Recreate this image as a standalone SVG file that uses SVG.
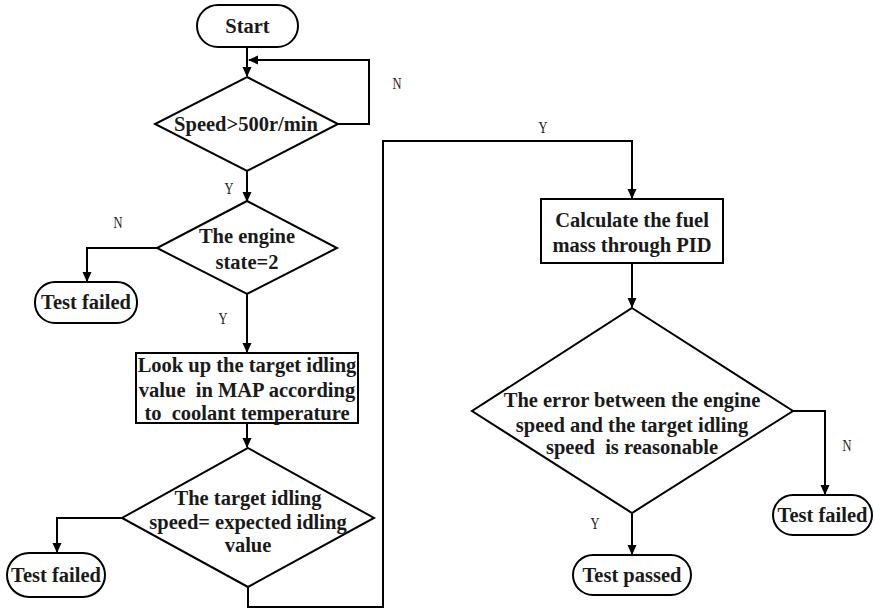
<svg xmlns="http://www.w3.org/2000/svg" width="874" height="611" viewBox="0 0 874 611">
<defs>
<marker id="ah" markerWidth="10" markerHeight="10" refX="9" refY="5" orient="auto" markerUnits="userSpaceOnUse">
<path d="M0,0.5 L10,5 L0,9.5 Z" fill="#000"/>
</marker>
<style>
.shape{fill:#fff;stroke:#000;stroke-width:2}
.t{font-family:"Liberation Serif","Times New Roman",serif;font-weight:bold;font-size:20.5px;text-anchor:middle;fill:#1a1a1a;white-space:pre}
.lbl{font-family:"Liberation Serif","Times New Roman",serif;font-size:17px;text-anchor:middle;fill:#222}
.c{fill:none;stroke:#000;stroke-width:2}
</style>
</defs>
<rect width="874" height="611" fill="#fff"/>
<g id="connectors">
<path class="c" d="M247,47 V76" marker-end="url(#ah)"/>
<path class="c" d="M338,124 H369 V60 H249" marker-end="url(#ah)"/>
<path class="c" d="M247,171 V201" marker-end="url(#ah)"/>
<path class="c" d="M157,248 H87 V281" marker-end="url(#ah)"/>
<path class="c" d="M247,294 V352" marker-end="url(#ah)"/>
<path class="c" d="M247,423 V447" marker-end="url(#ah)"/>
<path class="c" d="M122,518 H57 V552" marker-end="url(#ah)"/>
<path class="c" d="M248,587 V607 H383 V141 H632 V198" marker-end="url(#ah)"/>
<path class="c" d="M632,263 V307" marker-end="url(#ah)"/>
<path class="c" d="M793,411 H825 V494" marker-end="url(#ah)"/>
<path class="c" d="M632,513 V554" marker-end="url(#ah)"/>
<text class="lbl" x="397" y="89" textLength="9" lengthAdjust="spacingAndGlyphs">N</text>
<text class="lbl" x="229" y="194" textLength="9" lengthAdjust="spacingAndGlyphs">Y</text>
<text class="lbl" x="118" y="228" textLength="9" lengthAdjust="spacingAndGlyphs">N</text>
<text class="lbl" x="223" y="324" textLength="9" lengthAdjust="spacingAndGlyphs">Y</text>
<text class="lbl" x="543" y="133" textLength="9" lengthAdjust="spacingAndGlyphs">Y</text>
<text class="lbl" x="847" y="451" textLength="9" lengthAdjust="spacingAndGlyphs">N</text>
<text class="lbl" x="595" y="529" textLength="9" lengthAdjust="spacingAndGlyphs">Y</text>
</g>
<g id="start">
<rect class="shape" x="197" y="5" width="101" height="42" rx="21"/>
<text class="t" x="247.5" y="33">Start</text>
</g>
<g id="speed">
<polygon class="shape" points="247,77 338,124 247,171 155,124"/>
<text class="t" x="246" y="131">Speed&gt;500r/min</text>
</g>
<g id="engine-state">
<polygon class="shape" points="247,201 337,248 247,294 157,248"/>
<text class="t" x="247" y="243">The engine</text>
<text class="t" x="247" y="269">state=2</text>
</g>
<g id="fail1">
<rect class="shape" x="35" y="282" width="102" height="41" rx="20"/>
<text class="t" x="86" y="309">Test failed</text>
</g>
<g id="lookup">
<rect class="shape" x="136" y="353" width="222" height="70"/>
<text class="t" x="247" y="372">Look up the target idling</text>
<text class="t" x="247" y="397">value  in MAP according</text>
<text class="t" x="247" y="420">to  coolant temperature</text>
</g>
<g id="target">
<polygon class="shape" points="248,448 374,518 248,587 122,518"/>
<text class="t" x="248" y="505">The target idling</text>
<text class="t" x="248" y="529">speed= expected idling</text>
<text class="t" x="248" y="552">value</text>
</g>
<g id="fail2">
<rect class="shape" x="7" y="553" width="98" height="44" rx="22"/>
<text class="t" x="56" y="582">Test failed</text>
</g>
<g id="pid">
<rect class="shape" x="541" y="199" width="182" height="64"/>
<text class="t" x="632" y="227">Calculate the fuel</text>
<text class="t" x="632" y="252">mass through PID</text>
</g>
<g id="error">
<polygon class="shape" points="632,308 793,411 632,513 472,411"/>
<text class="t" x="632" y="407">The error between the engine</text>
<text class="t" x="632" y="432">speed and the target idling</text>
<text class="t" x="632" y="454">speed  is reasonable</text>
</g>
<g id="fail3">
<rect class="shape" x="773" y="495" width="99" height="40" rx="20"/>
<text class="t" x="822.5" y="522">Test failed</text>
</g>
<g id="passed">
<rect class="shape" x="573" y="555" width="118" height="40" rx="20"/>
<text class="t" x="632" y="582">Test passed</text>
</g>
</svg>
